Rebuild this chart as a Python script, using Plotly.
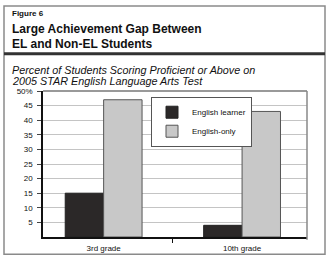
import plotly.graph_objects as go

categories = ["3rd grade", "10th grade"]
english_learner = [15, 4]
english_only = [47, 43]
tick_values = [5, 10, 15, 20, 25, 30, 35, 40, 45, 50]
tick_labels = ["5", "10", "15", "20", "25", "30", "35", "40", "45", "50%"]

W, H = 328, 265
L, R, T, B = 43, 21, 91, 21
PW, PH = W - L - R, H - T - B

def px(x):
    return (x - L) / PW

def py(y):
    return (H - B - y) / PH

FONT = "Liberation Sans, Arial, sans-serif"

fig = go.Figure()
fig.add_trace(go.Bar(x=categories, y=english_learner, name="English learner",
                     marker=dict(color="#2b2828", line=dict(color="#222", width=1))))
fig.add_trace(go.Bar(x=categories, y=english_only, name="English-only",
                     marker=dict(color="#c8c8c8", line=dict(color="#555", width=1))))

shapes = [
    dict(type="rect", xref="paper", yref="paper", x0=px(4), x1=px(325), y0=py(262), y1=py(2),
         line=dict(color="#8a8a8a", width=1.5), layer="below"),
    dict(type="line", xref="paper", yref="paper", x0=px(4), x1=px(325), y0=py(52), y1=py(52),
         line=dict(color="#333", width=3)),
    dict(type="line", xref="paper", yref="paper", x0=0, x1=1, y0=1, y1=1,
         line=dict(color="#777", width=1.5)),
    dict(type="line", xref="paper", yref="paper", x0=1, x1=1, y0=py(247), y1=1,
         line=dict(color="#888", width=1.5)),
]

def label(text, x, y, size):
    return dict(text=text, x=px(x), y=py(y), xref="paper", yref="paper",
                xanchor="left", yanchor="middle", showarrow=False,
                font=dict(family=FONT, size=size, color="#111"))

annotations = [
    label("<b>Figure 6</b>", 10, 9.5, 8),
    label("<b>Large Achievement Gap Between</b>", 10, 26.5, 12),
    label("<b>EL and Non-EL Students</b>", 10, 41.5, 12),
    label("<i>Percent of Students Scoring Proficient or Above on</i>", 10, 68.5, 10.8),
    label("<i>2005 STAR English Language Arts Test</i>", 10, 80, 10.8),
]

fig.update_layout(
    width=W, height=H,
    margin=dict(l=L, r=R, t=T, b=B, pad=0),
    paper_bgcolor="white", plot_bgcolor="white",
    barmode="group", bargap=0.445, bargroupgap=0,
    showlegend=True,
    legend=dict(x=px(151), y=py(97), xanchor="left", yanchor="top",
                bgcolor="white", bordercolor="#555", borderwidth=1,
                font=dict(family=FONT, size=8, color="#111"),
                tracegroupgap=0),
    font=dict(family=FONT, size=8, color="#111"),
    xaxis=dict(range=[-0.438, 1.469], showline=True, linecolor="#111", linewidth=1.5,
               ticks="outside", tickson="boundaries", ticklen=4, tickcolor="#111",
               showgrid=False, tickfont=dict(size=8), ticklabelstandoff=3),
    yaxis=dict(range=[0, 50], tickvals=tick_values, ticktext=tick_labels, showgrid=True,
               gridcolor="#c4c4c4", gridwidth=1, showline=True, linecolor="#111", linewidth=1.5,
               ticks="outside", ticklen=4, tickcolor="#444", zeroline=False,
               tickfont=dict(size=8), ticklabelstandoff=3),
    shapes=shapes, annotations=annotations,
)

fig.write_html("out.html")
